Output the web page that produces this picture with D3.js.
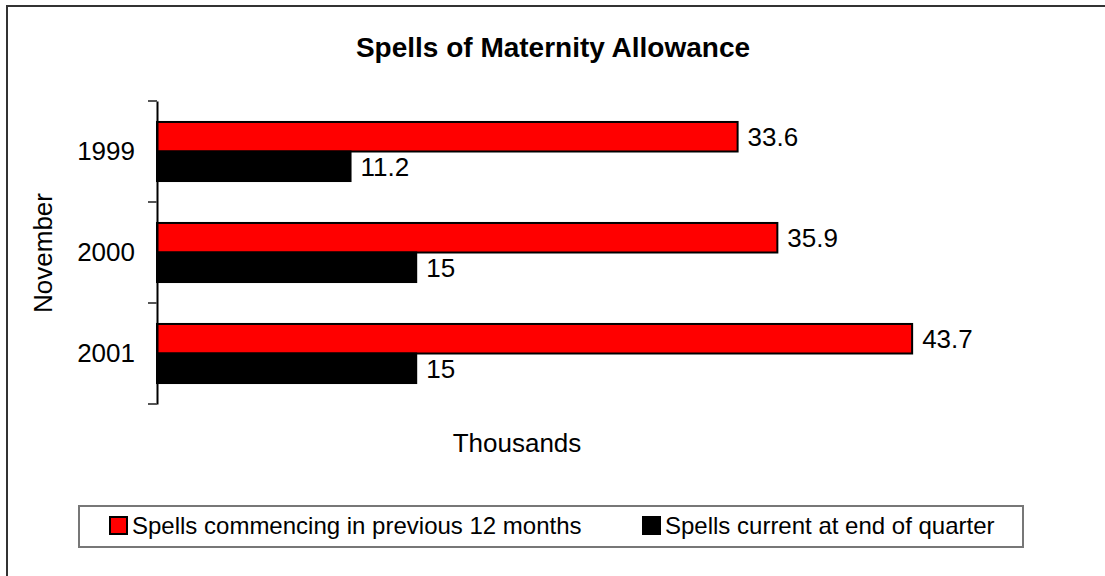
<!DOCTYPE html>
<html>
<head>
<meta charset="utf-8">
<script src="https://cdn.jsdelivr.net/npm/d3@7"></script>
<style>
  html, body { margin: 0; padding: 0; background: #fff; }
  svg { display: block; font-family: Arial, "Liberation Sans", sans-serif; }
</style>
</head>
<body>
<svg id="chart" width="1105" height="576"></svg>
<script>
// Maternity Allowance spells (thousands), November of each year
const years = ["1999", "2000", "2001"];
const seriesNames = ["Spells commencing in previous 12 months", "Spells current at end of quarter"];
const commencing = [33.6, 35.9, 43.7];
const current = [11.2, 15, 15];
const seriesColors = ["#ff0000", "#000000"];

const rows = years.map((y, i) => ({ year: y, values: [commencing[i], current[i]] }));

const svg = d3.select("#chart");

// outer frame
svg.append("rect")
  .attr("x", 7).attr("y", 6).attr("width", 1120).attr("height", 600)
  .attr("fill", "#fff").attr("stroke", "#333").attr("stroke-width", 2);

const plot = { left: 157, right: 1021, top: 101, bottom: 404 };

const x = d3.scaleLinear().domain([0, 50]).range([plot.left, plot.right]);
const y = d3.scaleBand().domain(years).range([plot.top, plot.bottom]);
const ySub = d3.scaleBand().domain([0, 1]).range([0, y.bandwidth()])
  .paddingInner(0).paddingOuter(0.71);

// title
svg.append("text")
  .attr("x", 553).attr("y", 57)
  .attr("text-anchor", "middle")
  .attr("font-size", 28).attr("font-weight", "bold")
  .text("Spells of Maternity Allowance");

// bars
const groups = svg.append("g").selectAll("g")
  .data(rows).join("g")
  .attr("transform", d => `translate(0,${y(d.year)})`);

groups.selectAll("rect")
  .data(d => d.values.map((v, k) => ({ v, k })))
  .join("rect")
  .attr("x", x(0))
  .attr("y", d => ySub(d.k))
  .attr("width", d => x(d.v) - x(0))
  .attr("height", ySub.bandwidth())
  .attr("fill", d => seriesColors[d.k])
  .attr("stroke", "#000").attr("stroke-width", 2);

// value labels
groups.selectAll("text")
  .data(d => d.values.map((v, k) => ({ v, k })))
  .join("text")
  .attr("x", d => x(d.v) + 10)
  .attr("y", d => ySub(d.k) + ySub.bandwidth() / 2)
  .attr("dy", "0.36em")
  .attr("font-size", 26)
  .text(d => d.v);

// category axis
const yAxis = svg.append("g")
  .attr("transform", `translate(${plot.left},0)`)
  .call(d3.axisLeft(y).tickSize(0).tickPadding(22));
yAxis.select(".domain").attr("stroke", "#000").attr("stroke-width", 2);
yAxis.selectAll(".tick text").attr("font-size", 26).attr("fill", "#000")
  .attr("font-family", "Arial, 'Liberation Sans', sans-serif");

// tick marks on band boundaries
const boundaries = years.map(yr => y(yr)).concat([plot.bottom]);
svg.append("g").selectAll("line")
  .data(boundaries).join("line")
  .attr("x1", plot.left - 9).attr("x2", plot.left)
  .attr("y1", d => d).attr("y2", d => d)
  .attr("stroke", "#555").attr("stroke-width", 2);

// axis titles
svg.append("text")
  .attr("transform", "translate(43,253) rotate(-90)")
  .attr("text-anchor", "middle").attr("dy", "0.36em")
  .attr("font-size", 26)
  .text("November");

svg.append("text")
  .attr("x", 517).attr("y", 443).attr("dy", "0.36em")
  .attr("text-anchor", "middle")
  .attr("font-size", 26)
  .text("Thousands");

// legend
const legend = svg.append("g");
legend.append("rect")
  .attr("x", 79).attr("y", 506).attr("width", 944).attr("height", 41)
  .attr("fill", "#fff").attr("stroke", "#777").attr("stroke-width", 2);

const legendX = [110, 643];
const items = legend.selectAll("g.item")
  .data(seriesNames).join("g").attr("class", "item")
  .attr("transform", (d, i) => `translate(${legendX[i]},517)`);
items.append("rect")
  .attr("width", 17).attr("height", 17)
  .attr("fill", (d, i) => seriesColors[i])
  .attr("stroke", "#000").attr("stroke-width", 2);
items.append("text")
  .attr("x", 22).attr("y", 17)
  .attr("font-size", 24)
  .text(d => d);
</script>
</body>
</html>
